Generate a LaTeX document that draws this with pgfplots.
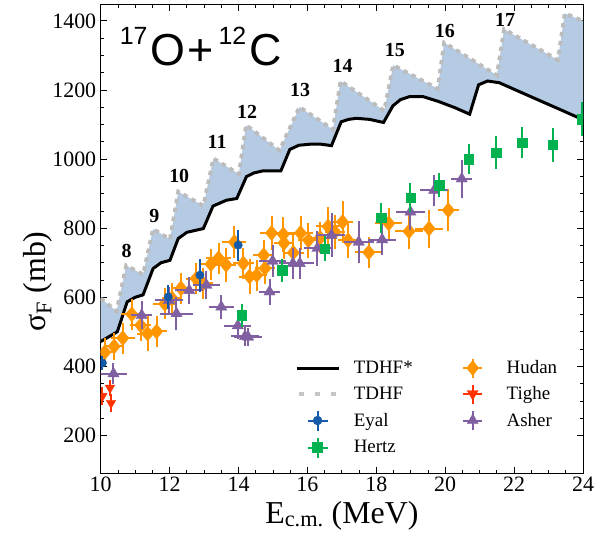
\documentclass[border=0pt]{standalone}
\usepackage{fontspec}
\setmainfont{Liberation Serif}
\newfontfamily\arialfont{Liberation Sans}
\usepackage{pgfplots}
\usepackage{pgfplotstable}
\pgfplotsset{compat=1.18}
\usepgfplotslibrary{fillbetween}

\definecolor{bandblue}{RGB}{181,203,227}
\definecolor{tdhfgray}{RGB}{188,188,188}
\definecolor{eyal}{RGB}{20,90,168}
\definecolor{hertz}{RGB}{0,178,80}
\definecolor{hudan}{RGB}{255,150,0}
\definecolor{tighe}{RGB}{255,50,0}
\definecolor{asher}{RGB}{128,96,160}

% TDHF (sawtooth) and TDHF* curves
\pgfplotstableread{
E S
10.00 597
10.46 560
10.74 692
11.23 666
11.52 798
12.01 768
12.25 906
12.98 865
13.27 1002
14.01 957
14.22 1099
15.19 1025
15.77 1151
16.74 1086
16.96 1226
18.23 1140
18.49 1272
19.78 1204
19.97 1337
21.50 1243
21.71 1376
23.27 1287
23.47 1422
24.00 1400
}\tdhf

\pgfplotstableread{
E S
10.00 472
10.48 500
10.77 587
11.00 600
11.23 607
11.52 683
11.75 700
12.01 707
12.25 770
12.50 788
12.98 799
13.26 864
13.65 881
13.95 886
14.23 949
14.45 960
14.71 966
15.23 966
15.49 1028
15.75 1040
16.07 1043
16.40 1043
16.70 1039
16.98 1108
17.20 1115
17.42 1118
17.80 1115
18.21 1106
18.48 1154
18.70 1172
18.97 1181
19.35 1181
19.80 1167
20.30 1148
20.71 1130
20.97 1215
21.23 1226
21.57 1221
22.50 1180
23.30 1145
24.00 1114
}\tdhfstar

% measurements: E dE S dS
\pgfplotstableread{
E dE S dS
10.12 0.30 441 40
10.39 0.30 458 40
10.64 0.35 482 45
10.90 0.30 551 45
11.16 0.30 519 45
11.36 0.30 495 50
11.62 0.30 501 45
11.86 0.35 581 45
12.07 0.30 597 45
12.33 0.30 626 45
12.77 0.30 654 45
12.97 0.30 640 45
13.20 0.30 696 45
13.42 0.35 713 45
13.64 0.30 694 50
13.88 0.35 760 45
14.14 0.30 698 45
14.32 0.30 660 50
14.53 0.30 664 45
14.73 0.30 722 45
14.77 0.30 684 45
14.96 0.35 786 50
15.30 0.35 782 50
15.32 0.30 757 45
15.59 0.30 729 50
15.80 0.35 786 50
16.03 0.30 765 50
16.37 0.30 772 45
16.60 0.35 805 55
16.80 0.30 789 50
17.02 0.30 818 60
17.18 0.30 765 50
17.78 0.40 730 45
18.36 0.40 814 45
18.95 0.40 791 50
19.53 0.40 799 55
20.09 0.30 852 60
}\hudantab

\pgfplotstableread{
E dE S dS
10.37 0.40 379 30
11.19 0.30 548 40
11.98 0.40 591 40
12.20 0.48 553 48
12.57 0.40 620 40
13.07 0.40 635 40
13.50 0.36 572 34
13.98 0.39 518 40
14.19 0.40 487 27
14.28 0.40 485 27
14.90 0.30 616 37
14.99 0.39 705 47
15.58 0.40 698 45
15.78 0.40 698 45
16.29 0.40 742 50
16.70 0.40 780 63
17.49 0.43 760 60
18.17 0.40 767 46
18.99 0.41 847 53
19.68 0.40 910 45
20.48 0.30 943 55
}\ashertab

\pgfplotstableread{
E S dS
10.05 410 20
11.96 601 36
12.88 664 48
13.99 751 45
}\eyaltab

\pgfplotstableread{
E S dS
14.09 548 34
15.27 678 34
16.50 741 35
18.14 830 43
18.99 889 43
19.83 925 36
20.68 1000 43
21.48 1018 48
22.23 1048 46
23.12 1041 48
23.97 1116 48
}\hertztab

\pgfplotstableread{
E S dS
10.05 314 26
10.27 338 24
10.30 294 26
}\tighetab

\begin{document}
\begin{tikzpicture}
\begin{axis}[
  at={(0,0)}, anchor=south west,
  scale only axis,
  width=482.3bp, height=468.5bp,
  xmin=10, xmax=24, ymin=90, ymax=1446,
  xtick={10,12,...,24}, ytick={200,400,...,1400},
  minor x tick num=3, minor y tick num=3,
  major tick length=6bp, minor tick length=3.5bp,
  tick style={black, line width=0.8bp},
  axis line style={line width=1bp},
  scaled ticks=false,
  /pgf/number format/1000 sep={},
  /pgf/number format/assume math mode=true,
  xticklabel style={font=\fontsize{22}{22}\selectfont},
  yticklabel style={font=\fontsize{22}{22}\selectfont, xshift=-1bp},
  xlabel={E\textsubscript{c.m.} (MeV)},
  ylabel={σ\textsubscript{F} (mb)},
  label style={font=\fontsize{32}{32}\selectfont},
  xlabel style={at={(axis description cs:0.5,-0.106)}, anchor=base},
  ylabel style={at={(axis description cs:-0.115,0.41)}, anchor=base},
  clip marker paths=true,
  legend columns=2,
  legend style={draw=none, fill=none, at={(axis cs:15.55,432)}, anchor=north west,
    font=\fontsize{19}{19}\selectfont, row sep=5bp,
    cells={anchor=west},
    /tikz/every odd column/.append style={column sep=11bp},
    /tikz/every even column/.append style={column sep=37bp}},
]
\addplot[name path=upper, draw=none, forget plot] table[x=E,y=S] {\tdhf};
\addplot[name path=lower, draw=none, forget plot] table[x=E,y=S] {\tdhfstar};
\addplot[fill=bandblue, draw=none, forget plot] fill between[of=upper and lower];
\addplot[tdhfgray, line width=3.8bp, dash pattern=on 4.5bp off 4.5bp, forget plot] table[x=E,y=S] {\tdhf};
\addplot[black, line width=3bp, forget plot] table[x=E,y=S] {\tdhfstar};

\addplot[only marks, mark=diamond*, mark size=7.5bp, mark options={hudan, xscale=1.1}, forget plot,
  error bars/.cd, x dir=both, x explicit, y dir=both, y explicit, error mark=none,
  error bar style={hudan, line width=2bp}]
  table[x=E, y=S, x error=dE, y error=dS] {\hudantab};
\addplot[only marks, mark=triangle*, mark size=6.5bp, mark options={asher}, forget plot,
  error bars/.cd, x dir=both, x explicit, y dir=both, y explicit, error mark=none,
  error bar style={asher, line width=2bp}]
  table[x=E, y=S, x error=dE, y error=dS] {\ashertab};
\addplot[only marks, mark=*, mark size=4.2bp, mark options={eyal}, forget plot,
  error bars/.cd, y dir=both, y explicit, error mark=none,
  error bar style={eyal, line width=2bp}]
  table[x=E, y=S, y error=dS] {\eyaltab};
\addplot[only marks, mark=square*, mark size=4.7bp, mark options={hertz}, forget plot,
  error bars/.cd, y dir=both, y explicit, error mark=none,
  error bar style={hertz, line width=2bp}]
  table[x=E, y=S, y error=dS] {\hertztab};
\addplot[only marks, mark=triangle*, mark size=5.5bp, mark options={tighe, rotate=180}, forget plot,
  error bars/.cd, y dir=both, y explicit, error mark=none,
  error bar style={tighe, line width=2bp}]
  table[x=E, y=S, y error=dS] {\tighetab};

% legend
\addlegendimage{legend image code/.code={\path[draw=none,fill=none] (0bp,-10bp) rectangle (42bp,10bp);
  \draw[black, line width=3bp] (0bp,0bp)--(42bp,0bp);}}
\addlegendentry{TDHF*}
\addlegendimage{legend image code/.code={\path[draw=none,fill=none] (0bp,-10bp) rectangle (42bp,10bp);
  \draw[hudan, line width=2bp] (11.5bp,0bp)--(30.5bp,0bp) (21bp,-9.5bp)--(21bp,9.5bp);
  \fill[hudan] (21bp,7.5bp)--(27bp,0bp)--(21bp,-7.5bp)--(15bp,0bp)--cycle;}}
\addlegendentry{Hudan}
\addlegendimage{legend image code/.code={\path[draw=none,fill=none] (0bp,-10bp) rectangle (42bp,10bp);
  \draw[tdhfgray!85, line width=4.5bp, dash pattern=on 5bp off 11bp] (2bp,0bp)--(42bp,0bp);}}
\addlegendentry{TDHF}
\addlegendimage{legend image code/.code={\path[draw=none,fill=none] (0bp,-10bp) rectangle (42bp,10bp);
  \draw[tighe, line width=2bp] (11.5bp,0bp)--(30.5bp,0bp) (21bp,-9.5bp)--(21bp,9.5bp);
  \fill[tighe] (21bp,-6bp)--(26.5bp,3.5bp)--(15.5bp,3.5bp)--cycle;}}
\addlegendentry{Tighe}
\addlegendimage{legend image code/.code={\path[draw=none,fill=none] (0bp,-10bp) rectangle (42bp,10bp);
  \draw[eyal, line width=2bp] (11bp,0bp)--(31bp,0bp) (21bp,-10bp)--(21bp,10bp);
  \fill[eyal] (21bp,0bp) circle (4.5bp);}}
\addlegendentry{Eyal}
\addlegendimage{legend image code/.code={\path[draw=none,fill=none] (0bp,-10bp) rectangle (42bp,10bp);
  \draw[asher, line width=2bp] (11.5bp,0bp)--(30.5bp,0bp) (21bp,-9.5bp)--(21bp,9.5bp);
  \fill[asher] (21bp,6.5bp)--(26.5bp,-3bp)--(15.5bp,-3bp)--cycle;}}
\addlegendentry{Asher}
\addlegendimage{legend image code/.code={\path[draw=none,fill=none] (0bp,-10bp) rectangle (42bp,10bp);
  \draw[hertz, line width=2bp] (11bp,0bp)--(31bp,0bp) (21bp,-10bp)--(21bp,10bp);
  \fill[hertz] (16bp,-5bp) rectangle (26bp,5bp);}}
\addlegendentry{Hertz}

% title and L labels
\node[anchor=base west, inner sep=0pt, font=\arialfont\fontsize{45}{45}\selectfont]
  at (axis cs:10.55,1272)
  {\raisebox{21bp}{\fontsize{25}{25}\selectfont 17}\hspace{3bp}O\hspace{2bp}+\hspace{5bp}\raisebox{21bp}{\fontsize{25}{25}\selectfont 12}\hspace{3bp}C};
\begin{scope}[every node/.style={font=\fontsize{20}{20}\selectfont\bfseries, inner sep=0pt}]
\node at (axis cs:10.75,733) {8};
\node at (axis cs:11.56,836) {9};
\node at (axis cs:12.28,951) {10};
\node at (axis cs:13.38,1051) {11};
\node at (axis cs:14.25,1138) {12};
\node at (axis cs:15.79,1200) {13};
\node at (axis cs:17.02,1271) {14};
\node at (axis cs:18.54,1317) {15};
\node at (axis cs:19.99,1372) {16};
\node at (axis cs:21.74,1404) {17};
\end{scope}
\end{axis}
\pgfresetboundingbox
\path (-100.7bp,-61.5bp) rectangle (509.3bp,473.5bp);
\end{tikzpicture}
\end{document}
